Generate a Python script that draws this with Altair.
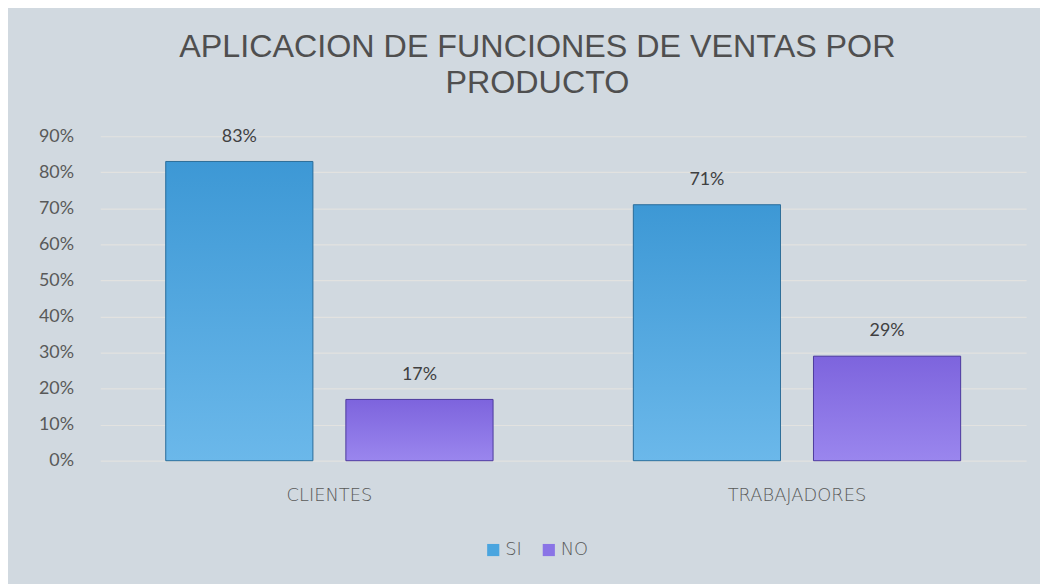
import altair as alt
import pandas as pd

categorias = ["CLIENTES", "CLIENTES", "TRABAJADORES", "TRABAJADORES"]
series = ["SI", "NO", "SI", "NO"]
valores = [0.83, 0.17, 0.71, 0.29]
etiquetas = ["83%", "17%", "71%", "29%"]

df = pd.DataFrame({"cat": categorias, "serie": series, "valor": valores, "etiqueta": etiquetas})

orden = ["SI", "NO"]
x = alt.X("cat:N", title=None, sort=["CLIENTES", "TRABAJADORES"],
          scale=alt.Scale(paddingInner=0.30, paddingOuter=0.14),
          axis=alt.Axis(labelAngle=0, domain=False, ticks=False, labelPadding=26,
                        labelFontSize=18, labelColor="#595959", labelFont="DejaVu Sans",
                        labelFontWeight=200))
xo = alt.XOffset("serie:N", sort=orden, scale=alt.Scale(paddingInner=0.183, paddingOuter=0))
y = alt.Y("valor:Q", title=None,
          scale=alt.Scale(domain=[0, 0.9], nice=False),
          axis=alt.Axis(format=".0%", values=[i / 10 for i in range(10)], domain=False, ticks=False,
                        labelPadding=27, labelFontSize=18, labelColor="#595959", labelFont="Lato",
                        gridColor="#E2E2E0", gridWidth=1.2))

base = alt.Chart(df)

bars = base.mark_bar().encode(
    x=x, xOffset=xo, y=y,
    color=alt.Color("serie:N", sort=orden,
                    scale=alt.Scale(domain=orden, range=["#4AA5DF", "#8A74E6"]),
                    legend=alt.Legend(title=None, orient="none", direction="horizontal",
                                      legendX=387, legendY=408, symbolType="square",
                                      symbolSize=150, symbolStrokeWidth=0, labelFontSize=18,
                                      labelColor="#595959", labelFont="DejaVu Sans",
                                      labelFontWeight=200, columnPadding=18,
                                      symbolOpacity=1, labelOffset=3)),
)

grad_si = alt.Gradient(gradient="linear", x1=0, x2=0, y1=0, y2=1,
                       stops=[alt.GradientStop(color="#3D98D5", offset=0),
                              alt.GradientStop(color="#6BB8EA", offset=1)])
grad_no = alt.Gradient(gradient="linear", x1=0, x2=0, y1=0, y2=1,
                       stops=[alt.GradientStop(color="#7D64DD", offset=0),
                              alt.GradientStop(color="#9A86EE", offset=1)])

si = base.transform_filter(alt.datum.serie == "SI").mark_bar(
    color=grad_si, stroke="#2E6E99", strokeWidth=1).encode(x=x, xOffset=xo, y=y)
no = base.transform_filter(alt.datum.serie == "NO").mark_bar(
    color=grad_no, stroke="#4E3C9C", strokeWidth=1).encode(x=x, xOffset=xo, y=y)

text = base.mark_text(dy=-25, fontSize=18, color="#404040", font="Lato").encode(
    x=x, xOffset=xo, y=y, text="etiqueta:N")

chart = alt.layer(bars, si, no, text).properties(
    width=933, height=327,
    autosize=alt.AutoSizeParams(type="none"),
    padding={"left": 93, "top": 127, "right": 14, "bottom": 122},
    background="#D1D9E0",
    title=alt.TitleParams(
        ["APLICACION DE FUNCIONES DE VENTAS POR", "PRODUCTO"],
        anchor="middle", dx=-26, offset=28, fontSize=32.5, font="Liberation Sans",
        fontWeight="normal", color="#4F4F4F", lineHeight=36,
    ),
).configure_view(stroke=None)

chart.save("out.html", embed_options={"renderer": "svg", "actions": False})
